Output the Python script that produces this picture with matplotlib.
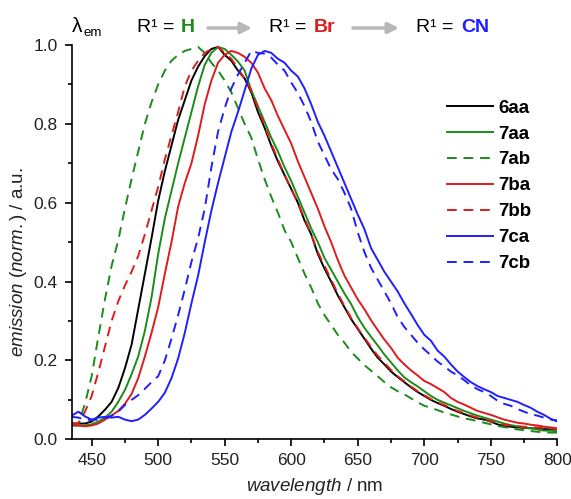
import numpy as np
import matplotlib
matplotlib.use("Agg")
import matplotlib.pyplot as plt
from matplotlib.ticker import MultipleLocator

plt.rcParams['font.family'] = ['Liberation Sans', 'DejaVu Sans']
plt.rcParams['mathtext.fontset'] = 'custom'
plt.rcParams['mathtext.rm'] = 'Liberation Sans'
plt.rcParams['mathtext.it'] = 'Liberation Sans:italic'
plt.rcParams['mathtext.bf'] = 'Liberation Sans:bold'

# wavelength grid (nm), values every 5 nm
wavelength = np.arange(435, 801, 5)

em_6aa = [0.040, 0.040, 0.040, 0.045, 0.058, 0.075, 0.095, 0.130, 0.180, 0.240,
          0.330, 0.420, 0.510, 0.605, 0.680, 0.745, 0.810, 0.860, 0.910, 0.945,
          0.972, 0.990, 0.995, 0.975, 0.960, 0.935, 0.915, 0.880, 0.830, 0.790,
          0.745, 0.705, 0.670, 0.635, 0.600, 0.555, 0.520, 0.470, 0.433, 0.400,
          0.365, 0.335, 0.305, 0.280, 0.255, 0.230, 0.207, 0.190, 0.172, 0.158,
          0.145, 0.132, 0.120, 0.110, 0.100, 0.092, 0.085, 0.077, 0.070, 0.064,
          0.058, 0.053, 0.050, 0.045, 0.038, 0.033, 0.032, 0.030, 0.029, 0.028,
          0.027, 0.026, 0.025, 0.025]

em_7aa = [0.035, 0.035, 0.035, 0.038, 0.045, 0.055, 0.070, 0.095, 0.125, 0.165,
          0.210, 0.275, 0.360, 0.470, 0.560, 0.630, 0.700, 0.765, 0.830, 0.895,
          0.950, 0.980, 0.995, 0.990, 0.975, 0.958, 0.935, 0.885, 0.845, 0.805,
          0.765, 0.730, 0.690, 0.655, 0.615, 0.575, 0.535, 0.500, 0.460, 0.430,
          0.400, 0.370, 0.343, 0.310, 0.283, 0.260, 0.238, 0.215, 0.195, 0.175,
          0.157, 0.145, 0.134, 0.122, 0.110, 0.100, 0.093, 0.086, 0.079, 0.072,
          0.066, 0.060, 0.055, 0.050, 0.045, 0.040, 0.036, 0.033, 0.030, 0.028,
          0.025, 0.022, 0.022, 0.020]

em_7ab = [0.035, 0.040, 0.090, 0.160, 0.260, 0.355, 0.440, 0.505, 0.585, 0.660,
          0.730, 0.800, 0.855, 0.900, 0.935, 0.960, 0.975, 0.985, 0.990, 0.995,
          0.980, 0.955, 0.935, 0.910, 0.880, 0.840, 0.800, 0.765, 0.710, 0.660,
          0.615, 0.575, 0.530, 0.500, 0.460, 0.420, 0.385, 0.345, 0.315, 0.290,
          0.265, 0.245, 0.222, 0.205, 0.188, 0.174, 0.160, 0.145, 0.132, 0.122,
          0.114, 0.104, 0.094, 0.085, 0.080, 0.074, 0.068, 0.063, 0.058, 0.053,
          0.050, 0.046, 0.042, 0.038, 0.034, 0.031, 0.028, 0.025, 0.023, 0.021,
          0.019, 0.018, 0.017, 0.017]

em_7ba = [0.035, 0.035, 0.033, 0.035, 0.040, 0.050, 0.060, 0.072, 0.090, 0.115,
          0.155, 0.210, 0.270, 0.335, 0.420, 0.500, 0.590, 0.650, 0.700, 0.770,
          0.850, 0.910, 0.955, 0.975, 0.985, 0.980, 0.970, 0.955, 0.930, 0.890,
          0.860, 0.820, 0.785, 0.750, 0.705, 0.665, 0.625, 0.585, 0.540, 0.500,
          0.455, 0.415, 0.385, 0.355, 0.330, 0.302, 0.277, 0.253, 0.232, 0.207,
          0.190, 0.175, 0.162, 0.148, 0.140, 0.130, 0.120, 0.105, 0.095, 0.088,
          0.080, 0.072, 0.067, 0.062, 0.056, 0.050, 0.046, 0.042, 0.040, 0.037,
          0.035, 0.032, 0.030, 0.028]

em_7bb = [0.040, 0.040, 0.070, 0.110, 0.170, 0.235, 0.300, 0.350, 0.390, 0.425,
          0.465, 0.520, 0.580, 0.640, 0.710, 0.770, 0.830, 0.895, 0.935, 0.960,
          0.980, 0.990, 0.995, 0.980, 0.965, 0.940, 0.915, 0.885, 0.840, 0.795,
          0.750, 0.710, 0.670, 0.635, 0.600, 0.560, 0.520, 0.475, 0.440, 0.405,
          0.370, 0.338, 0.308, 0.282, 0.258, 0.234, 0.212, 0.194, 0.176, 0.160,
          0.147, 0.134, 0.122, 0.112, 0.102, 0.094, 0.087, 0.079, 0.072, 0.066,
          0.060, 0.055, 0.051, 0.046, 0.041, 0.037, 0.035, 0.033, 0.032, 0.030,
          0.030, 0.028, 0.027, 0.026]

em_7ca = [0.060, 0.070, 0.058, 0.050, 0.055, 0.057, 0.055, 0.057, 0.050, 0.046,
          0.050, 0.062, 0.078, 0.095, 0.118, 0.155, 0.205, 0.270, 0.345, 0.415,
          0.500, 0.580, 0.650, 0.715, 0.780, 0.830, 0.885, 0.940, 0.975, 0.985,
          0.980, 0.965, 0.955, 0.935, 0.920, 0.890, 0.850, 0.805, 0.770, 0.730,
          0.690, 0.650, 0.610, 0.570, 0.533, 0.485, 0.455, 0.425, 0.400, 0.375,
          0.345, 0.318, 0.290, 0.265, 0.250, 0.225, 0.210, 0.190, 0.172, 0.158,
          0.145, 0.135, 0.127, 0.120, 0.110, 0.105, 0.100, 0.095, 0.087, 0.080,
          0.070, 0.062, 0.052, 0.045]

em_7cb = [0.057, 0.055, 0.050, 0.049, 0.050, 0.054, 0.060, 0.070, 0.087, 0.100,
          0.112, 0.128, 0.145, 0.160, 0.200, 0.255, 0.315, 0.380, 0.450, 0.510,
          0.585, 0.690, 0.780, 0.840, 0.890, 0.925, 0.955, 0.985, 0.980, 0.978,
          0.968, 0.950, 0.935, 0.905, 0.878, 0.845, 0.805, 0.755, 0.720, 0.685,
          0.660, 0.625, 0.585, 0.525, 0.475, 0.435, 0.405, 0.375, 0.345, 0.310,
          0.285, 0.265, 0.245, 0.228, 0.213, 0.197, 0.185, 0.172, 0.162, 0.150,
          0.137, 0.127, 0.120, 0.110, 0.098, 0.090, 0.085, 0.077, 0.070, 0.064,
          0.060, 0.055, 0.050, 0.048]

labels = ['6aa', '7aa', '7ab', '7ba', '7bb', '7ca', '7cb']
series = [em_6aa, em_7aa, em_7ab, em_7ba, em_7bb, em_7ca, em_7cb]

green = '#1a8c1a'
red = '#dd1c1c'
blue = '#1f1fff'
colors = ['black', green, green, red, red, blue, blue]
dashed = [False, False, True, False, True, False, True]

W, H = 571, 499
fig = plt.figure(figsize=(W / 100, H / 100), dpi=100)
ax = fig.add_axes([71.7 / W, 1 - 439.3 / H, (557.3 - 71.7) / W, (439.3 - 45) / H])

for y, lab, c, d in zip(series, labels, colors, dashed):
    if d:
        ax.plot(wavelength, y, color=c, lw=1.4, dashes=(5, 3.5), label=lab)
    else:
        ax.plot(wavelength, y, color=c, lw=1.4, label=lab)

ax.set_xlim(435, 800)
ax.set_ylim(0, 1.0)
ax.xaxis.set_major_locator(MultipleLocator(50))
ax.xaxis.set_minor_locator(MultipleLocator(25))
ax.yaxis.set_major_locator(MultipleLocator(0.2))
ax.yaxis.set_minor_locator(MultipleLocator(0.1))
ax.yaxis.set_major_formatter(plt.FuncFormatter(lambda v, p: '%.1f' % v))
ax.spines['top'].set_visible(False)
ax.spines['right'].set_visible(False)
for s in ['left', 'bottom']:
    ax.spines[s].set_linewidth(1.2)
ax.tick_params(which='major', direction='out', length=5, width=1.2, labelsize=12.5, pad=5,
               labelcolor='#222222')
ax.tick_params(which='minor', direction='out', length=3, width=1.2)

ax.set_xlabel(r'$\it{wavelength}$ / nm', fontsize=13.5, color='#222222')
ax.set_ylabel(r'$\it{emission\ (norm.)}$ / a.u.', fontsize=13.5, color='#222222')
ax.xaxis.set_label_coords(0.5, -0.094)
ax.yaxis.set_label_coords(-0.087, 0.45)

leg = ax.legend(loc='upper left', bbox_to_anchor=((439.5 - 71.7) / (557.3 - 71.7), (439.3 - 92) / 394.3),
                frameon=False, handlelength=2.45, handletextpad=0.27, labelspacing=0.47,
                borderaxespad=0, prop={'weight': 'bold', 'size': 13.5})

# header line above the plot
def ftext(x, y, s, size=14, **kw):
    fig.text(x / W, 1 - y / H, s, va='center', ha='left', fontsize=size, **kw)

ftext(72, 26, '\u03bb', size=15)
ftext(84, 33, 'em', size=9.5)
ftext(137, 28, 'R\u00b9 =')
ftext(181, 28, 'H', color=green, weight='bold')
ftext(269, 28, 'R\u00b9 =')
ftext(314, 28, 'Br', color=red, weight='bold')
ftext(416, 28, 'R\u00b9 =')
ftext(461, 28, 'CN', color=blue, weight='bold')

for x0, x1 in [(208, 252), (353, 399)]:
    fig.add_artist(plt.Annotation('', xy=(x1 / W, 1 - 28 / H), xytext=(x0 / W, 1 - 28 / H),
                                  xycoords='figure fraction', textcoords='figure fraction',
                                  arrowprops=dict(arrowstyle='-|>', color='#b8b8b8', lw=2.5,
                                                  mutation_scale=16, shrinkA=0, shrinkB=0)))

fig.savefig('out.png', dpi=100)
